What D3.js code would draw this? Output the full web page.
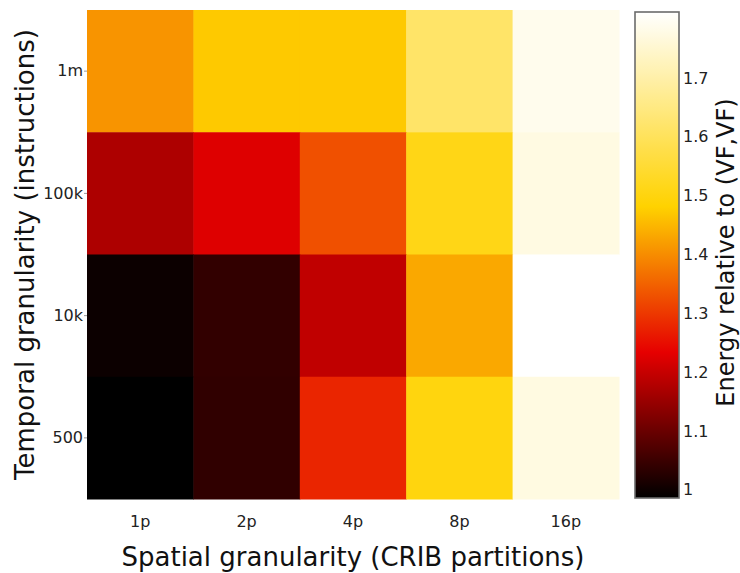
<!DOCTYPE html>
<html>
<head>
<meta charset="utf-8">
<script src="https://cdn.jsdelivr.net/npm/d3@7"></script>
<style>
  html, body { margin: 0; padding: 0; background: #fff; }
  svg { display: block; font-family: "DejaVu Sans", sans-serif; }
</style>
</head>
<body>
<svg id="chart" width="740" height="573"></svg>
<script>
// Spatial partitions (columns) and temporal windows (rows, top to bottom)
const spatial = ["1p", "2p", "4p", "8p", "16p"];
const temporal = ["1m", "100k", "10k", "500"];

// Energy relative to (VF,VF), one array per temporal row, ordered as `spatial`
const energy1m   = [1.408, 1.471, 1.471, 1.616, 1.789];
const energy100k = [1.172, 1.225, 1.328, 1.510, 1.774];
const energy10k  = [0.999, 1.040, 1.193, 1.432, 1.812];
const energy500  = [0.986, 1.038, 1.277, 1.500, 1.773];

const colorbarTicks = [1, 1.1, 1.2, 1.3, 1.4, 1.5, 1.6, 1.7];

const rows = [energy1m, energy100k, energy10k, energy500];
const cells = [];
rows.forEach((vals, ri) => vals.forEach((v, ci) => cells.push({ row: temporal[ri], col: spatial[ci], value: v })));

const zMin = d3.min(cells, d => d.value);
const zMax = d3.max(cells, d => d.value);

// "Hot" colour scale: black -> red -> gold -> white
const zSpan = zMax - zMin;
const color = d3.scaleLinear()
  .domain([zMin, zMin + 0.3 * zSpan, zMin + 0.6 * zSpan, zMax])
  .range(["rgb(0,0,0)", "rgb(230,0,0)", "rgb(255,210,0)", "rgb(255,255,255)"])
  .interpolate(d3.interpolateRgb)
  .clamp(true);

const svg = d3.select("#chart");
const plot = { left: 87, right: 619, top: 10, bottom: 499 };

const x = d3.scaleBand().domain(spatial).range([plot.left, plot.right]).padding(0);
const y = d3.scaleBand().domain(temporal).range([plot.top, plot.bottom]).padding(0);

// Heatmap cells
svg.append("g").selectAll("rect")
  .data(cells)
  .join("rect")
  .attr("x", d => x(d.col))
  .attr("y", d => y(d.row))
  .attr("width", x.bandwidth() + 0.5)
  .attr("height", y.bandwidth() + 0.5)
  .attr("fill", d => color(d.value));

// X axis (labels only)
const xAxis = svg.append("g")
  .attr("transform", `translate(0,${plot.bottom + 17})`)
  .call(d3.axisBottom(x).tickSize(0).tickPadding(0));
xAxis.select(".domain").remove();
xAxis.selectAll("text")
  .attr("dy", "0.71em")
  .attr("font-size", 16)
  .attr("font-family", "DejaVu Sans, sans-serif")
  .attr("fill", "#222");

// Y axis with short tick marks
const yAxis = svg.append("g")
  .attr("transform", `translate(${plot.left},0)`)
  .call(d3.axisLeft(y).tickSize(3).tickPadding(1));
yAxis.select(".domain").remove();
yAxis.selectAll("line").attr("stroke", "#999");
yAxis.selectAll("text")
  .attr("font-size", 16)
  .attr("font-family", "DejaVu Sans, sans-serif")
  .attr("fill", "#222");

// Axis titles
svg.append("text")
  .attr("x", (plot.left + plot.right) / 2)
  .attr("y", 566)
  .attr("text-anchor", "middle")
  .attr("font-size", 26)
  .attr("fill", "#111")
  .text("Spatial granularity (CRIB partitions)");

svg.append("text")
  .attr("transform", `translate(34,${(plot.top + plot.bottom) / 2}) rotate(-90)`)
  .attr("text-anchor", "middle")
  .attr("font-size", 26)
  .attr("fill", "#111")
  .text("Temporal granularity (instructions)");

// Colour bar
const cb = { x: 635, width: 44, top: 12, bottom: 498 };
const cbScale = d3.scaleLinear().domain([zMin, zMax]).range([cb.bottom, cb.top]);

const defs = svg.append("defs");
const grad = defs.append("linearGradient")
  .attr("id", "cbGrad")
  .attr("x1", 0).attr("y1", 1).attr("x2", 0).attr("y2", 0);
d3.range(0, 1.0001, 0.02).forEach(t => {
  grad.append("stop")
    .attr("offset", t)
    .attr("stop-color", color(zMin + t * zSpan));
});

svg.append("rect")
  .attr("x", cb.x)
  .attr("y", cb.top)
  .attr("width", cb.width)
  .attr("height", cb.bottom - cb.top)
  .attr("fill", "url(#cbGrad)")
  .attr("stroke", "#6b6b6b")
  .attr("stroke-width", 1.6);

const cbAxis = svg.append("g")
  .attr("transform", `translate(${cb.x + cb.width + 2},0)`)
  .call(d3.axisRight(cbScale).tickValues(colorbarTicks).tickSize(0).tickPadding(2).tickFormat(d3.format("~g")));
cbAxis.select(".domain").remove();
cbAxis.selectAll("text")
  .attr("font-size", 16)
  .attr("font-family", "DejaVu Sans, sans-serif")
  .attr("fill", "#222");

svg.append("text")
  .attr("transform", `translate(733.5,252.5) rotate(-90)`)
  .attr("text-anchor", "middle")
  .attr("font-size", 24)
  .attr("fill", "#111")
  .text("Energy relative to (VF,VF)");
</script>
</body>
</html>
